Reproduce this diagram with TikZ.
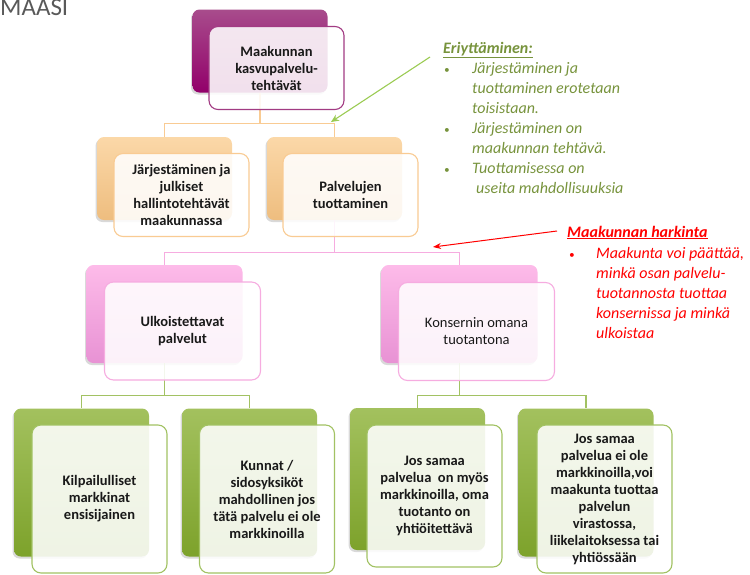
\documentclass[tikz,border=0pt]{standalone}
\usepackage{fontspec}
\setmainfont{Carlito}
\usetikzlibrary{shadows,arrows.meta}
\definecolor{magTop}{HTML}{A84C8C}
\definecolor{magBot}{HTML}{92006A}
\definecolor{magLine}{HTML}{A23B83}
\definecolor{oraTop}{HTML}{FBD8A8}
\definecolor{oraBot}{HTML}{EEBD7F}
\definecolor{oraLine}{HTML}{F9CB93}
\definecolor{pinTop}{HTML}{FDBBE9}
\definecolor{pinBot}{HTML}{E892D4}
\definecolor{pinLine}{HTML}{F6ACE0}
\definecolor{greTop}{HTML}{A3C15E}
\definecolor{greBot}{HTML}{7DA22B}
\definecolor{greLine}{HTML}{A2C263}
\definecolor{noteGreen}{HTML}{77933C}
\definecolor{arrGreen}{HTML}{9BCB53}
\definecolor{titleGray}{HTML}{595959}
\newcommand{\smallbul}[1]{\makebox[#1][l]{\hspace*{1pt}\fontsize{11}{11}\selectfont\textbullet}}
\begin{document}
\begin{tikzpicture}[x=1pt, y=-1pt,
		back/.style={rounded corners=7pt, inner sep=0pt, drop shadow={shadow xshift=-1.5pt, shadow yshift=-2pt, opacity=.3}},
		front/.style={rounded corners=9pt, draw, line width=1.1pt, fill=white, fill opacity=.88, text opacity=1, inner sep=0pt, align=center, text=black!90, font=\fontsize{14.5}{17}\selectfont\bfseries},
		lvlA/.style={minimum width=135pt, minimum height=83pt},
		lvlC/.style={minimum width=156pt, minimum height=98pt},
		lvlD/.style={minimum width=135pt, minimum height=148pt},
		conn/.style={line width=1.2pt},
		note/.style={inner sep=0pt, align=left, font=\fontsize{16}{20}\selectfont\itshape}
	]
	\useasboundingbox (0,0) rectangle (750,574);
	\clip (0,0) rectangle (750,574);
	\node[anchor=base west, inner sep=0pt, text=titleGray, font=\fontsize{25}{30}\selectfont] (title) at (0,15) {MAASI};
	\node[back, lvlA, top color=magTop, bottom color=magBot] (l1b) at (260,51) {};
	\node[back, lvlA, top color=oraTop, bottom color=oraBot] (l2ab) at (164.5,178.5) {};
	\node[back, lvlA, top color=oraTop, bottom color=oraBot] (l2bb) at (334.5,178.5) {};
	\node[back, lvlC, top color=pinTop, bottom color=pinBot] (l3ab) at (164.5,314) {};
	\node[back, lvlC, top color=pinTop, bottom color=pinBot] (l3bb) at (459.5,314) {};
	\node[back, lvlD, top color=greTop, bottom color=greBot] (l4ab) at (81.5,482.5) {};
	\node[back, lvlD, top color=greTop, bottom color=greBot] (l4bb) at (249.5,482.5) {};
	\node[back, lvlD, minimum height=142pt, top color=greTop, bottom color=greBot] (l4cb) at (417.5,479) {};
	\node[back, lvlD, top color=greTop, bottom color=greBot] (l4db) at (586,482.5) {};
	\draw[conn, oraLine] (l1b.south) -- ++(0,31) -| (l2ab.north);
	\draw[conn, oraLine] (l1b.south) -- ++(0,31) -| (l2bb.north);
	\draw[conn, pinLine] (l2bb.south) -- ++(0,32) -| (l3ab.north);
	\draw[conn, pinLine] (l2bb.south) -- ++(0,32) -| (l3bb.north);
	\draw[conn, greLine] (l3ab.south) -- ++(0,32) -| (l4ab.north);
	\draw[conn, greLine] (l3ab.south) -- ++(0,32) -| (l4bb.north);
	\draw[conn, greLine] (l3bb.south) -- ++(0,32) -| (l4cb.north);
	\draw[conn, greLine] (l3bb.south) -- ++(0,32) -| (l4db.north);
	\node[front, lvlA, draw=magLine] (l1) at (276.5,68) {Maakunnan\\kasvupalvelu-\\tehtävät};
	\node[front, lvlA, draw=oraLine] (l2a) at (181.5,195) {Järjestäminen ja\\julkiset\\hallintotehtävät\\maakunnassa};
	\node[front, lvlA, draw=oraLine] (l2b) at (350.5,195) {Palvelujen\\tuottaminen};
	\node[front, lvlC, draw=pinLine] (l3a) at (182.5,331) {Ulkoistettavat\\palvelut};
	\node[front, lvlC, draw=pinLine, font=\fontsize{14.5}{17}\selectfont] (l3b) at (476.5,331.5) {Konsernin omana\\tuotantona};
	\node[front, lvlD, draw=greLine] (l4a) at (99.5,499) {Kilpailulliset\\markkinat\\ensisijainen};
	\node[front, lvlD, draw=greLine] (l4b) at (267,499) {Kunnat /\\sidosyksiköt\\mahdollinen jos\\tätä palvelu ei ole\\markkinoilla};
	\node[front, lvlD, minimum height=142pt, draw=greLine] (l4c) at (434.5,496) {Jos samaa\\palvelua~ on myös\\markkinoilla, oma\\tuotanto on\\yhtiöitettävä};
	\node[front, lvlD, draw=greLine] (l4d) at (604.5,499) {Jos samaa\\palvelua ei ole\\markkinoilla,voi\\maakunta tuottaa\\palvelun\\virastossa,\\liikelaitoksessa tai\\yhtiössään};
	\node[note, anchor=base west, text=noteGreen] (eriHead) at (443,53) {\underline{\bfseries Eriyttäminen:}};
	\node[note, anchor=base west, text=noteGreen] (eriList) at (443,193) {\smallbul{29pt}Järjestäminen ja\\\hspace*{29pt}tuottaminen erotetaan\\\hspace*{29pt}toisistaan.\\\smallbul{29pt}Järjestäminen on\\\hspace*{29pt}maakunnan tehtävä.\\\smallbul{29pt}Tuottamisessa on\\\hspace*{33pt}useita mahdollisuuksia};
	\node[note, anchor=base west, text=red] (harHead) at (567,237) {\underline{\bfseries Maakunnan harkinta}};
	\node[note, anchor=base west, text=red] (harList) at (568,338) {\smallbul{28pt}Maakunta voi päättää,\\\hspace*{28pt}minkä osan palvelu-\\\hspace*{28pt}tuotannosta tuottaa\\\hspace*{28pt}konsernissa ja minkä\\\hspace*{28pt}ulkoistaa};
	\coordinate (eriTail) at (430,57);
	\coordinate (eriTip) at (331,122);
	\coordinate (harTail) at (557,231);
	\coordinate (harTip) at (433,247);
	\draw[arrGreen, line width=1.1pt, -{Stealth[length=8pt, width=7pt]}] (eriTail) -- (eriTip);
	\draw[red, line width=1pt, -{Stealth[length=8pt, width=6pt]}] (harTail) -- (harTip);
\end{tikzpicture}
\end{document}
